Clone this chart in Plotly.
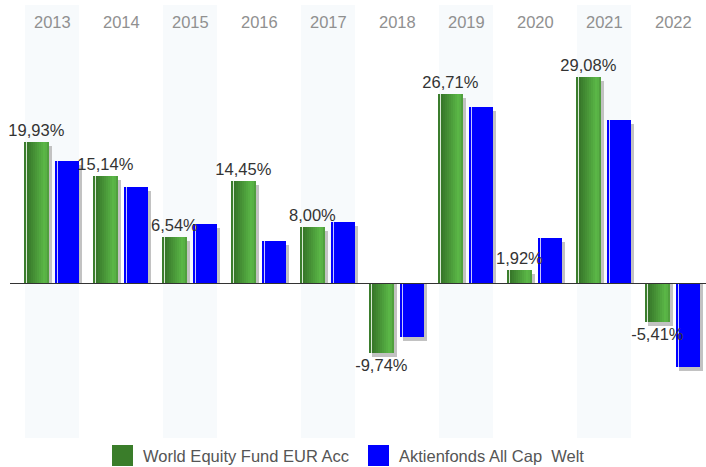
import plotly.graph_objects as go

# yearly performance in %
years = ['2013', '2014', '2015', '2016', '2017', '2018', '2019', '2020', '2021', '2022']
fund = [19.93, 15.14, 6.54, 14.45, 8.00, -9.74, 26.71, 1.92, 29.08, -5.41]
bench = [17.25, 13.60, 8.40, 6.00, 8.70, -7.55, 24.90, 6.40, 23.00, -11.70]
fund_name = 'World Equity Fund EUR Acc'
bench_name = 'Aktienfonds All Cap\u00a0\u00a0Welt'
shaded_years = years[0::2]

FONT = 'Liberation Sans, Arial, sans-serif'
PX = 69.0          # pixels per category
YPX = 7.1          # pixels per percent
y_lo, y_hi = -21.76, 39.23


def u(px):
    # pixel distance -> category units
    return px / PX


def mix(a, b, t):
    return 'rgb(%d,%d,%d)' % tuple(round(a[i] + (b[i] - a[i]) * t) for i in range(3))


shadow_drop = 4 / YPX
fig = go.Figure()

# light background bands behind every other year
fig.add_trace(go.Bar(x=shaded_years, y=[y_hi - y_lo] * len(shaded_years), base=y_lo,
                     width=u(54), marker=dict(color='#f7fafc', line_width=0),
                     hoverinfo='skip', showlegend=False))

# shadows
fig.add_trace(go.Bar(x=years, y=[v - shadow_drop for v in fund], offset=u(-25), width=u(25),
                     marker=dict(color='#c2c2c2', line_width=0), hoverinfo='skip', showlegend=False))
fig.add_trace(go.Bar(x=years, y=[v - shadow_drop for v in bench], offset=u(6), width=u(24),
                     marker=dict(color='#c2c2c2', line_width=0), hoverinfo='skip', showlegend=False))

# green bar: base + gradient slices + white highlight line
fig.add_trace(go.Bar(x=years, y=fund, offset=u(-28), width=u(25), name=fund_name,
                     marker=dict(color='#3b7d2d', line_width=0), showlegend=False))
dark, light, edge = (56, 120, 42), (92, 186, 72), (80, 160, 62)
n = 11
for k in range(n):
    t = k / (n - 1)
    col = mix(dark, light, t / 0.85) if t <= 0.85 else mix(light, edge, (t - 0.85) / 0.15)
    fig.add_trace(go.Bar(x=years, y=fund, offset=u(-25 + 2 * k), width=u(2.3),
                         marker=dict(color=col, line_width=0), hoverinfo='skip', showlegend=False))
fig.add_trace(go.Bar(x=years, y=fund, offset=u(-26), width=u(1.2),
                     marker=dict(color='rgba(235,245,232,0.9)', line_width=0),
                     hoverinfo='skip', showlegend=False))

# blue bar + highlight line
fig.add_trace(go.Bar(x=years, y=bench, offset=u(3), width=u(24), name=bench_name,
                     marker=dict(color='#0000ff', line_width=0), showlegend=False))
fig.add_trace(go.Bar(x=years, y=bench, offset=u(5), width=u(1.2),
                     marker=dict(color='rgba(210,210,255,0.95)', line_width=0),
                     hoverinfo='skip', showlegend=False))

# value labels on top
labels = [('%.2f%%' % v).replace('.', ',') for v in fund]
fig.add_trace(go.Bar(x=years, y=fund, offset=u(-28), width=u(25),
                     marker=dict(color='rgba(0,0,0,0)', line_width=0),
                     text=labels, textposition='outside', constraintext='none', cliponaxis=False,
                     textfont=dict(family=FONT, size=16.5, color='#333333'),
                     hoverinfo='skip', showlegend=False))

# year labels at top (x given as category index)
for i, yr in enumerate(years):
    fig.add_annotation(x=i, y=1, xref='x', yref='paper', yanchor='middle', yshift=-17,
                       text=yr, showarrow=False, font=dict(family=FONT, size=16.5, color='#909090'))

# zero line
fig.add_shape(type='line', xref='paper', yref='y', x0=0, x1=1, y0=0, y1=0,
              line=dict(color='#333333', width=1.2), layer='above')

# legend
plot_h = 433.0
for name, col, px_sq in [(fund_name, '#3a7d2a', 112), (bench_name, '#0000ff', 368)]:
    fig.add_shape(type='rect', xref='paper', yref='paper',
                  x0=(px_sq - 10) / 696, x1=(px_sq + 21 - 10) / 696,
                  y0=(438 - 466) / plot_h, y1=(438 - 445) / plot_h,
                  fillcolor=col, line_width=0)
    fig.add_annotation(x=(px_sq + 29 - 10) / 696, y=(438 - 456) / plot_h, xref='paper', yref='paper',
                       xanchor='left', yanchor='middle', text=name, showarrow=False,
                       font=dict(family=FONT, size=16.5, color='#555555'))

fig.update_layout(
    width=706, height=467,
    margin=dict(l=10, r=0, t=5, b=29, autoexpand=False),
    barmode='overlay', bargap=0,
    plot_bgcolor='white', paper_bgcolor='white',
    showlegend=False,
    xaxis=dict(type='category', categoryorder='array', categoryarray=years,
               range=[-0.6087, 9.4783], showticklabels=False,
               showgrid=False, zeroline=False, fixedrange=True),
    yaxis=dict(range=[y_lo, y_hi], showticklabels=False, showgrid=False,
               zeroline=False, fixedrange=True),
)

# drop the default page margin so the figure sits at the window's corner
fig.write_html('out.html', config={'displayModeBar': False},
               post_script="document.body.style.margin='0';")
